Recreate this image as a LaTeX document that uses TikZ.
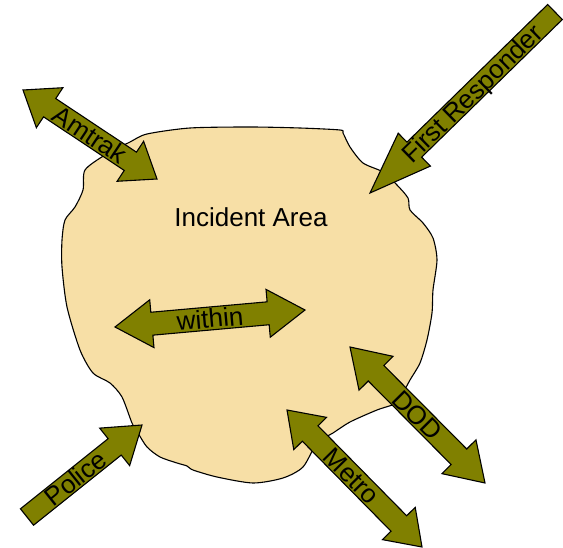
\documentclass[tikz,border=0pt]{standalone}
\usepackage{fontspec}
\setmainfont{Liberation Sans}
\usetikzlibrary{calc}
\definecolor{blobfill}{HTML}{F7DFA6}
\definecolor{arrowolive}{HTML}{808000}
\tikzset{
  blob/.style={draw=black, line width=1.1pt, fill=blobfill},
  arrowbody/.style={draw=black, line width=1.1pt, fill=arrowolive, line join=miter},
  arrowlabel/.style={font=\fontsize{26}{28}\selectfont, text height=18.6pt, text depth=0pt, inner sep=0pt, sloped},
  arealabel/.style={font=\fontsize{26}{28}\selectfont, inner sep=0pt}
}
% double arrow: tip A, tip B, head length, head half width, shaft half width
\newcommand\dblarrowshape[5]{%
  \draw[arrowbody] (#1)
   -- ($($(#1)!#3!(#2)$)!#4!90:(#2)$)
   -- ($($(#1)!#3!(#2)$)!#5!90:(#2)$)
   -- ($($(#2)!#3!(#1)$)!#5!-90:(#1)$)
   -- ($($(#2)!#3!(#1)$)!#4!-90:(#1)$)
   -- (#2)
   -- ($($(#2)!#3!(#1)$)!#4!90:(#1)$)
   -- ($($(#2)!#3!(#1)$)!#5!90:(#1)$)
   -- ($($(#1)!#3!(#2)$)!#5!-90:(#2)$)
   -- ($($(#1)!#3!(#2)$)!#4!-90:(#2)$)
   -- cycle;}
% single arrow: tail T, tip P, head length, head half width, shaft half width
\newcommand\sglarrowshape[5]{%
  \draw[arrowbody] ($(#1)!#5!90:(#2)$)
   -- ($($(#2)!#3!(#1)$)!#5!-90:(#1)$)
   -- ($($(#2)!#3!(#1)$)!#4!-90:(#1)$)
   -- (#2)
   -- ($($(#2)!#3!(#1)$)!#4!90:(#1)$)
   -- ($($(#2)!#3!(#1)$)!#5!90:(#1)$)
   -- ($(#1)!#5!-90:(#2)$)
   -- cycle;}
\begin{document}
\begin{tikzpicture}[x=1pt,y=-1pt]
\useasboundingbox (0,0) rectangle (563,548);
\draw[blob] plot[smooth cycle, tension=0.45] coordinates {
 (85,170) (105,155) (130,142) (147,134) (190,128) (250,127) (300,128) (340,130)
 (343,133) (350,147) (363,163) (383,172) (397,185) (408,198) (410,210) (423,223)
 (433,238) (437,260) (433,290) (432,313) (427,340) (420,363) (410,380) (403,393)
 (397,403) (377,410) (350,422) (333,433) (317,443) (303,467) (283,478) (253,483)
 (217,477) (193,470) (187,466) (177,463) (160,457) (147,447) (138,433) (132,423)
 (122,397) (110,383) (93,373) (80,350) (67,307) (62,267) (62,240) (65,220)
 (75,207) (83,190)};
\node[arealabel] (area) at (251,217) {Incident Area};

\coordinate (amA) at (23,90);    \coordinate (amB) at (157,179);
\coordinate (frTip) at (370,193); \coordinate (frTail) at (555,12);
\coordinate (wiA) at (115,327);  \coordinate (wiB) at (305,310);
\coordinate (poTail) at (27,517); \coordinate (poTip) at (142,425);
\coordinate (meA) at (287,410);  \coordinate (meB) at (422,547);
\coordinate (doA) at (350,347);  \coordinate (doB) at (485,483);

\dblarrowshape{amA}{amB}{32pt}{24pt}{11pt}
\sglarrowshape{frTail}{frTip}{62pt}{23pt}{10.5pt}
\dblarrowshape{wiA}{wiB}{37pt}{24pt}{11.5pt}
\sglarrowshape{poTail}{poTip}{35pt}{24pt}{10.5pt}
\dblarrowshape{meA}{meB}{33pt}{23pt}{11pt}
\dblarrowshape{doA}{doB}{37pt}{24pt}{11pt}

\path (amA) -- node[arrowlabel, pos=0.5] (amtrak) {Amtrak} (amB);
\path (frTip) -- node[arrowlabel, pos=0.55] (firstresp) {First Responder} (frTail);
\path (wiA) -- node[arrowlabel, pos=0.5] (within) {within} (wiB);
\path (poTail) -- node[arrowlabel, pos=0.42] (police) {Police} (poTip);
\path (meA) -- node[arrowlabel, pos=0.48] (metro) {Metro} (meB);
\path (doA) -- node[arrowlabel, pos=0.5] (dod) {DOD} (doB);
\end{tikzpicture}
\end{document}
